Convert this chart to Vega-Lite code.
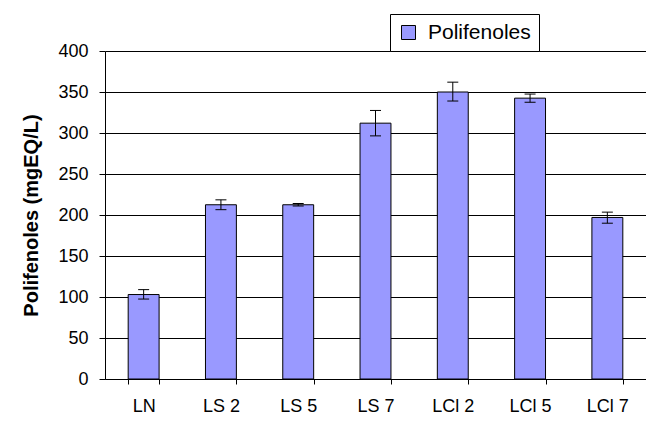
{
  "$schema": "https://vega.github.io/schema/vega-lite/v6.json",
  "autosize": "none",
  "width": 541,
  "height": 328,
  "padding": {"left": 105, "top": 51, "right": 0, "bottom": 46},
  "background": "white",
  "config": {
    "font": "Liberation Sans",
    "view": {"stroke": null}
  },
  "data": {
    "values": [
      {"muestra": "LN", "valor": 103, "lo": 97.5, "hi": 109, "serie": "Polifenoles"},
      {"muestra": "LS 2", "valor": 212.5, "lo": 206.5, "hi": 218.5, "serie": "Polifenoles"},
      {"muestra": "LS 5", "valor": 212.5, "lo": 211, "hi": 214, "serie": "Polifenoles"},
      {"muestra": "LS 7", "valor": 312, "lo": 296.5, "hi": 327.5, "serie": "Polifenoles"},
      {"muestra": "LCl 2", "valor": 350, "lo": 339, "hi": 362, "serie": "Polifenoles"},
      {"muestra": "LCl 5", "valor": 342.5, "lo": 337.5, "hi": 347.5, "serie": "Polifenoles"},
      {"muestra": "LCl 7", "valor": 197, "lo": 190, "hi": 203.5, "serie": "Polifenoles"}
    ]
  },
  "encoding": {
    "x": {
      "field": "muestra",
      "type": "nominal",
      "sort": null,
      "scale": {"paddingInner": 0.6, "paddingOuter": 0.3},
      "axis": {
        "title": null,
        "labelAngle": 0,
        "tickBand": "extent",
        "tickSize": 5,
        "tickColor": "black",
        "domainColor": "black",
        "labelFontSize": 18,
        "labelColor": "black",
        "labelPadding": 13,
        "grid": false
      }
    }
  },
  "layer": [
    {
      "mark": {"type": "bar", "stroke": "black", "strokeWidth": 1},
      "encoding": {
        "y": {
          "field": "valor",
          "type": "quantitative",
          "scale": {"domain": [0, 400], "nice": false},
          "axis": {
            "title": "Polifenoles (mgEQ/L)",
            "titleFontSize": 20,
            "titleFontWeight": "bold",
            "titleColor": "black",
            "titlePadding": 16,
            "values": [0, 50, 100, 150, 200, 250, 300, 350, 400],
            "grid": true,
            "gridColor": "black",
            "gridWidth": 1,
            "gridOpacity": 1,
            "tickSize": 6,
            "tickColor": "black",
            "domainColor": "black",
            "labelFontSize": 18,
            "labelColor": "black",
            "labelPadding": 11
          }
        },
        "color": {
          "field": "serie",
          "type": "nominal",
          "scale": {"domain": ["Polifenoles"], "range": ["#9999FF"]},
          "legend": {
            "title": null,
            "orient": "none",
            "legendX": 285,
            "legendY": -37,
            "padding": 8,
            "strokeColor": "black",
            "fillColor": "white",
            "labelFontSize": 21,
            "labelColor": "black",
            "labelOffset": 9,
            "symbolType": "square",
            "symbolSize": 196,
            "symbolStrokeColor": "black",
            "symbolStrokeWidth": 1,
            "symbolOpacity": 1
          }
        }
      }
    },
    {
      "mark": {"type": "rule", "color": "black", "strokeWidth": 1},
      "encoding": {
        "y": {"field": "lo", "type": "quantitative"},
        "y2": {"field": "hi"}
      }
    },
    {
      "mark": {"type": "tick", "color": "black", "thickness": 1, "size": 11, "opacity": 1},
      "encoding": {
        "y": {"field": "lo", "type": "quantitative"}
      }
    },
    {
      "mark": {"type": "tick", "color": "black", "thickness": 1, "size": 11, "opacity": 1},
      "encoding": {
        "y": {"field": "hi", "type": "quantitative"}
      }
    }
  ]
}
